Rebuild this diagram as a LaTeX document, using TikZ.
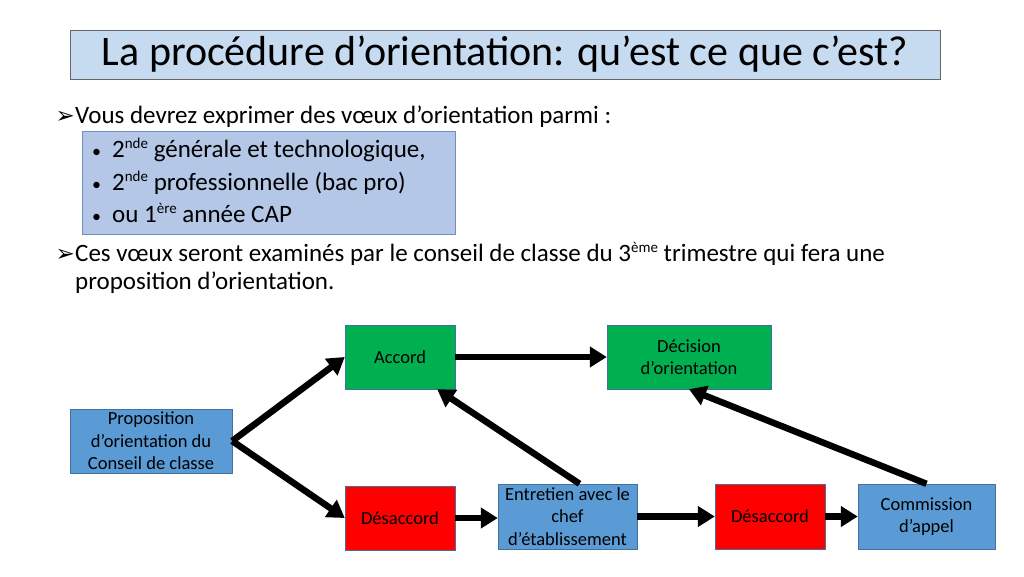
\documentclass[tikz,border=0pt]{standalone}
\usepackage{fontspec}
\setmainfont{Carlito}
\newfontfamily\symfont{DejaVu Sans}
\usetikzlibrary{arrows.meta,positioning}
\definecolor{titleblue}{HTML}{C6DAF0}
\definecolor{listblue}{HTML}{B4C7E7}
\definecolor{listedge}{HTML}{6F8FC0}
\definecolor{boxblue}{HTML}{5B9BD5}
\definecolor{boxedge}{HTML}{41719C}
\definecolor{okgreen}{HTML}{00B050}
\definecolor{badred}{HTML}{FF0000}
\newcommand{\expo}[1]{\raisebox{.33em}{\fontsize{15}{15}\selectfont #1}}
\newcommand{\puce}{\makebox[20pt][l]{\fontsize{18}{18}\selectfont•}}
\tikzset{
	txt/.style={inner sep=0pt,font=\fontsize{25}{30}\selectfont},
	bul/.style={inner sep=0pt,font=\symfont\fontsize{23}{24}\selectfont},
	item/.style={txt,anchor=base west},
	box/.style={draw=boxedge,inner sep=1pt,align=center,font=\fontsize{18.5}{22.5}\selectfont},
	greenbox/.style={box,fill=okgreen},
	redbox/.style={box,fill=badred},
	bluebox/.style={box,fill=boxblue},
	diredge/.style={-{Triangle[width=20pt,length=17pt]},line width=6.5pt,color=black}
}

\begin{document}
\begin{tikzpicture}[x=1pt,y=-1pt]
	\useasboundingbox[fill=white] (0,0) rectangle (1024,576);

	%%Title
	\node[draw=black!60,fill=titleblue,minimum width=870pt,minimum height=49pt,inner sep=0pt,font=\fontsize{42}{44}\selectfont] (title) at (505,54.5) {La procédure d’orientation: qu’est ce que c’est?};

	%%First point + list of choices
	\node[txt,anchor=base west] (voeux) at (75,123) {Vous devrez exprimer des vœux d’orientation parmi :};
	\node[bul,anchor=base east] (arr1) at (voeux.base west) {➢};
	\node[draw=listedge,fill=listblue,anchor=north west,minimum width=373pt,minimum height=103pt] (choix) at (82,131) {};
	\node[item] (item1) at (92,157) {\puce 2\expo{nde} générale et technologique,};
	\node[item] (item2) at (92,190) {\puce 2\expo{nde} professionnelle (bac pro)};
	\node[item] (item3) at (92,222) {\puce ou 1\expo{ère} année CAP};

	%%Second point
	\node[txt,anchor=base west] (examen) at (75,261) {Ces vœux seront examinés par le conseil de classe du 3\expo{ème} trimestre qui fera une};
	\node[bul,anchor=base east] (arr2) at (examen.base west) {➢};
	\node[txt,anchor=base west] (examen2) at (75,289) {proposition d’orientation.};

	%%Diagram
	\node[bluebox,minimum width=162pt,minimum height=64pt] (prop) at (151,441) {Proposition\\d’orientation du\\Conseil de classe};
	\node[greenbox,minimum width=110pt,minimum height=64pt] (accord) at (400,357) {Accord};
	\node[greenbox,minimum width=164pt,minimum height=64pt] (decision) at (689,357) {Décision\\d’orientation};
	\node[redbox,minimum width=110pt,minimum height=64pt] (desac1) at (400,518) {Désaccord};
	\node[bluebox,minimum width=139pt,minimum height=65pt] (entretien) at (567.5,516.5) {Entretien avec le\\chef\\d’établissement};
	\node[redbox,minimum width=110pt,minimum height=65pt] (desac2) at (770,516.5) {Désaccord};
	\node[bluebox,minimum width=137pt,minimum height=65pt] (appel) at (926.5,516.5) {Commission\\d’appel};

	%%Arrows
	\draw[diredge] (prop.east) -- (accord.west);
	\draw[diredge] (prop.east) -- (desac1.west);
	\draw[diredge] (accord.east) -- (decision.west);
	\draw[diredge] (desac1.east) -- (entretien.west |- desac1.east);
	\draw[diredge] ([xshift=12pt]entretien.north) -- ([xshift=-18pt]accord.south east);
	\draw[diredge] (entretien.east) -- (desac2.west);
	\draw[diredge] (desac2.east) -- (appel.west);
	\draw[diredge] (appel.north) -- (decision.south);
\end{tikzpicture}
\end{document}
